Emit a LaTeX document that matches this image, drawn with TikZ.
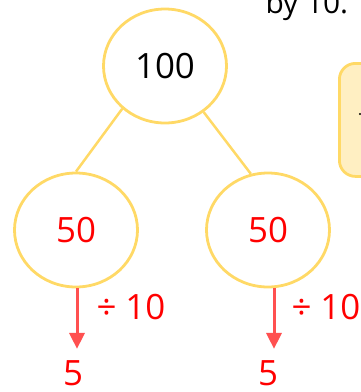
\documentclass[tikz,border=0pt]{standalone}
\usepackage{fontspec}
\setmainfont{Open Sans}
\usetikzlibrary{arrows.meta,shapes.geometric}
\definecolor{ringyellow}{HTML}{FFD966}
\definecolor{boxfill}{HTML}{FFEFC2}
\definecolor{arrowred}{HTML}{FF5050}
\definecolor{numred}{HTML}{FF0000}

\begin{document}
\begin{tikzpicture}[x=1bp,y=-1bp,
  numring/.style={ellipse,draw=ringyellow,line width=2.8bp,inner sep=0pt,
    minimum width=123bp,minimum height=114bp,font=\fontsize{35}{40}\selectfont},
  branch/.style={ringyellow,line width=2.5bp},
  divide/.style={arrowred,line width=3bp,-{Triangle[width=15bp,length=16bp]}},
  numtext/.style={text=numred,font=\fontsize{35}{40}\selectfont},
  hintbox/.style={draw=ringyellow,fill=boxfill,line width=2.8bp,rounded corners=16bp}
]
  \useasboundingbox (0,0) rectangle (361,392);
  \clip (0,0) rectangle (361,392);

  % part of the sentence above and the hint box
  \node[anchor=base west,font=\fontsize{30}{34}\selectfont] (note) at (262,13) {by 10.};
  \node[hintbox,anchor=north west,minimum width=80bp,minimum height=113bp] (hint) at (338,62) {};
  \fill (360,114) circle (1.2bp);

  % the part-whole tree
  \node[numring] (whole) at (165,66) {100};
  \node[numring,text=numred] (left) at (76,230) {50};
  \node[numring,text=numred] (right) at (268,230) {50};

  \draw[branch] (whole.225) -- (left.north);
  \draw[branch] (whole.310) -- (right.107);

  % divide each part by 10
  \node[numtext,anchor=base,inner sep=1bp] (fiveL) at (73,385) {5};
  \node[numtext,anchor=base,inner sep=1bp] (fiveR) at (268,385) {5};

  \draw[divide,shorten >=10bp] ([xshift=1bp]left.south) -- ([xshift=1bp]left.south |- fiveL.north);
  \draw[divide,shorten >=10bp] ([xshift=6bp]right.south) -- ([xshift=6bp]right.south |- fiveR.north);

  \node[numtext,anchor=west] (divL) at (93,307) {÷ 10};
  \node[numtext,anchor=west] (divR) at (288,307) {÷ 10};
\end{tikzpicture}
\end{document}
